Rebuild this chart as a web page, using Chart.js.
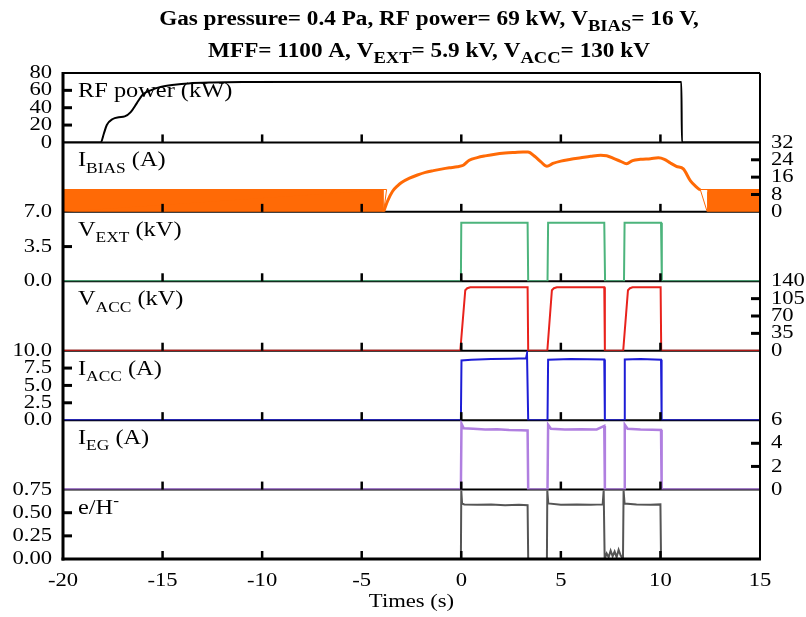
<!DOCTYPE html>
<html>
<head>
<meta charset="utf-8">
<script src="https://cdn.jsdelivr.net/npm/chart.js@4.4.0/dist/chart.umd.min.js"></script>
<style>
  html, body { margin: 0; padding: 0; background: #fff; }
  #wrap { width: 806px; height: 617px; }
</style>
</head>
<body>
<div id="wrap"><canvas id="shotChart" width="806" height="617"></canvas></div>
<script>
// time axis (s)
const xTicks = [-20, -15, -10, -5, 0, 5, 10, 15];

// RF power (kW)
const rfTime  = [-20, -18.1, -17.95, -17.8, -17.5, -17.2, -16.9, -16.6, -16.3, -16.0, -15.6, -15.1, -14.4, -13.7, -12.5, -11.0, 0, 11.05, 11.08, 15];
const rfPower = [0, 0, 10, 20, 27, 29, 30, 35, 45, 55, 60, 64, 66.5, 68, 69, 69.5, 70, 69.5, 0, 0];

// I_BIAS (A): noisy band before/after the shot, plus the smooth part
const ibiasBandLTime = [-20, -3.75, -3.9];
const ibiasBandLVal  = [10.3, 10.3, 0];
const ibiasBandRTime = [12.35, 12.0, 15];
const ibiasBandRVal  = [0, 10.3, 10.3];
const ibiasTime = [-3.9, -3.7, -3.45, -3.2, -3.0, -2.6, -2.2, -1.8, -1.4, -1.0, -0.6, -0.2, 0.1, 0.4, 0.8, 1.2, 1.7, 2.2, 2.7, 3.1, 3.35, 3.7, 4.0, 4.3, 4.6, 5.0, 5.5, 6.0, 6.5, 7.0, 7.3, 7.7, 8.0, 8.3, 8.6, 9.0, 9.5, 9.9, 10.2, 10.5, 10.8, 11.15, 11.5, 11.8, 12.0];
const ibiasVal  = [0, 5, 9.5, 12, 13.5, 15.5, 17, 18.2, 19, 19.7, 20.3, 20.8, 21.5, 23.8, 25, 25.8, 26.6, 27.1, 27.4, 27.6, 27.6, 25.5, 23, 21, 22.3, 23.4, 24.2, 24.9, 25.6, 26.1, 25.9, 24.4, 23.3, 22.2, 23.6, 24.2, 24.5, 24.9, 24.2, 22.5, 21, 19.8, 14.4, 11.5, 10];

// V_EXT (kV)
const vextTime = [-20, -0.02, 0.0, 3.33, 3.36, 4.33, 4.36, 7.18, 7.22, 8.17, 8.2, 10.03, 10.07, 15];
const vextVal  = [0, 0, 5.9, 5.9, 0, 0, 5.9, 5.9, 0, 0, 5.9, 5.9, 0, 0];

// V_ACC (kV)
const vaccTime = [-20, -0.05, 0.2, 0.3, 0.45, 3.33, 3.36, 4.32, 4.55, 4.65, 4.8, 7.18, 7.21, 8.13, 8.37, 8.47, 8.6, 10.01, 10.04, 15];
const vaccVal  = [0, 0, 122, 126, 128, 128, 0, 0, 122, 126, 128, 128, 0, 0, 122, 126, 128, 128, 0, 0];

// I_ACC (A)
const iaccTime = [-20, -0.02, 0.01, 0.5, 1.5, 2.5, 3.25, 3.3, 3.33, 3.36, 4.33, 4.36, 5.5, 7.18, 7.21, 8.18, 8.21, 9.0, 10.03, 10.06, 15];
const iaccVal  = [0, 0, 8.6, 8.7, 8.8, 8.85, 8.9, 9.6, 9.6, 0, 0, 8.7, 8.8, 8.75, 0, 0, 8.75, 8.8, 8.7, 0, 0];

// I_EG (A)
const iegTime = [-20, -0.02, 0.01, 0.12, 0.6, 1.2, 1.8, 2.4, 3.0, 3.33, 3.36, 4.33, 4.36, 4.5, 5.2, 6.0, 6.8, 7.18, 7.21, 8.18, 8.21, 8.35, 9.0, 9.6, 10.03, 10.06, 15];
const iegVal  = [0, 0, 5.7, 5.3, 5.25, 5.2, 5.22, 5.15, 5.12, 5.1, 0, 0, 5.6, 5.25, 5.2, 5.22, 5.2, 5.5, 0, 0, 5.6, 5.25, 5.2, 5.18, 5.15, 0, 0];

// e/H- ratio
const ehTime = [-20, -0.02, 0.0, 0.04, 0.15, 0.8, 1.5, 2.2, 2.9, 3.33, 3.36, 4.3, 4.32, 4.37, 5.0, 5.8, 6.5, 7.1, 7.15, 7.2, 7.3, 7.4, 7.5, 7.6, 7.7, 7.8, 7.9, 8.0, 8.12, 8.15, 8.2, 8.8, 9.5, 10.0, 10.03, 15];
const ehVal  = [0, 0, 0.74, 0.6, 0.59, 0.585, 0.59, 0.58, 0.585, 0.58, 0, 0, 0.74, 0.6, 0.585, 0.59, 0.585, 0.59, 0.74, 0, 0.06, 0.02, 0.09, 0.03, 0.08, 0.02, 0.1, 0.04, 0, 0.74, 0.6, 0.59, 0.585, 0.59, 0, 0];

// y tick values / labels per panel
const rfTicks = [0, 20, 40, 60, 80];          const rfTickLabels = ['0', '20', '40', '60', '80'];
const ibiasTicks = [0, 8, 16, 24, 32];        const ibiasTickLabels = ['0', '8', '16', '24', '32'];
const vextTicks = [0, 3.5, 7];                const vextTickLabels = ['0.0', '3.5', '7.0'];
const vaccTicks = [0, 35, 70, 105, 140];      const vaccTickLabels = ['0', '35', '70', '105', '140'];
const iaccTicks = [0, 2.5, 5, 7.5, 10];       const iaccTickLabels = ['0.0', '2.5', '5.0', '7.5', '10.0'];
const iegTicks = [0, 2, 4, 6];                const iegTickLabels = ['0', '2', '4', '6'];
const ehTicks = [0, 0.25, 0.5, 0.75];         const ehTickLabels = ['0.00', '0.25', '0.50', '0.75'];

const titleLine1 = [['Gas pressure= 0.4 Pa, RF power= 69 kW, V', ''], ['BIAS', 'sub'], ['= 16 V,', '']];
const titleLine2 = [['MFF= 1100 A, V', ''], ['EXT', 'sub'], ['= 5.9 kV, V', ''], ['ACC', 'sub'], ['= 130 kV', '']];

const SERIF = '"Liberation Serif", "Times New Roman", serif';
const STRETCH = 1.16;   // the original lettering is a bit wider than Times

const panels = [
  { id: 'rf',    side: 'left',  max: 80,   ticks: rfTicks,    labels: rfTickLabels,    name: [['RF power (kW)', '']] },
  { id: 'ibias', side: 'right', max: 32,   ticks: ibiasTicks, labels: ibiasTickLabels, name: [['I', ''], ['BIAS', 'sub'], [' (A)', '']] },
  { id: 'vext',  side: 'left',  max: 7,    ticks: vextTicks,  labels: vextTickLabels,  name: [['V', ''], ['EXT', 'sub'], [' (kV)', '']] },
  { id: 'vacc',  side: 'right', max: 140,  ticks: vaccTicks,  labels: vaccTickLabels,  name: [['V', ''], ['ACC', 'sub'], [' (kV)', '']] },
  { id: 'iacc',  side: 'left',  max: 10,   ticks: iaccTicks,  labels: iaccTickLabels,  name: [['I', ''], ['ACC', 'sub'], [' (A)', '']] },
  { id: 'ieg',   side: 'right', max: 6,    ticks: iegTicks,   labels: iegTickLabels,   name: [['I', ''], ['EG', 'sub'], [' (A)', '']] },
  { id: 'eh',    side: 'left',  max: 0.75, ticks: ehTicks,    labels: ehTickLabels,    name: [['e/H', ''], ['-', 'sup']] }
];

function pts(xs, ys) {
  return xs.map((x, i) => ({ x: x, y: ys[i] }));
}

// one stacked axis on each side for every panel
function panelAxis(p, pos, weight) {
  return {
    type: 'linear',
    position: pos,
    stack: 'panels',
    stackWeight: 1,
    weight: weight,
    min: 0,
    max: p.max,
    afterBuildTicks: s => { s.ticks = p.ticks.map(v => ({ value: v })); },
    afterFit: s => { s.width = pos === 'left' ? 63 : 46; },
    grid: { display: false, drawTicks: false },
    border: { display: false },
    ticks: {
      display: pos === p.side,
      autoSkip: false,
      padding: 11,
      color: '#000',
      font: { family: SERIF, size: 19.5 },
      callback: v => p.labels[p.ticks.indexOf(v)]
    }
  };
}

const scales = {
  x: {
    type: 'linear',
    position: 'bottom',
    min: -20,
    max: 15,
    afterBuildTicks: s => { s.ticks = xTicks.map(v => ({ value: v })); },
    afterFit: s => { s.height = 58; },
    grid: { display: false, drawTicks: false },
    border: { display: false },
    ticks: { padding: 10, autoSkip: false, maxRotation: 0, color: '#000', font: { family: SERIF, size: 19.5 } },
    title: { display: true, text: 'Times (s)', color: '#000', font: { family: SERIF, size: 19.5 }, padding: { top: 0, bottom: 3 } }
  }
};
panels.forEach((p, i) => {
  scales['L' + p.id] = panelAxis(p, 'left', 20 - i);
  scales['R' + p.id] = panelAxis(p, 'right', i + 1);
});

function drawRich(ctx, parts, x, y, size, weight, subScale, align) {
  const small = Math.round(size * subScale);
  const fontOf = s => weight + ' ' + s + 'px ' + SERIF;
  let total = 0;
  parts.forEach(([t, m]) => { ctx.font = fontOf(m ? small : size); total += ctx.measureText(t).width * STRETCH; });
  let cx = align === 'center' ? x - total / 2 : x;
  ctx.textAlign = 'left';
  ctx.textBaseline = 'alphabetic';
  ctx.fillStyle = '#000';
  parts.forEach(([t, m]) => {
    ctx.font = fontOf(m ? small : size);
    const dy = m === 'sub' ? size * 0.3 : (m === 'sup' ? -size * 0.4 : 0);
    ctx.fillText(t, cx, y + dy);
    cx += ctx.measureText(t).width * STRETCH;
  });
}

function seg(ctx, x1, y1, x2, y2) {
  ctx.beginPath();
  ctx.moveTo(x1, y1);
  ctx.lineTo(x2, y2);
  ctx.stroke();
}

// widen every piece of text around its anchor point
const textStretch = {
  id: 'textStretch',
  beforeDraw(chart) {
    const c = chart.ctx;
    if (c._plainFillText) return;
    c._plainFillText = c.fillText;
    c.fillText = function (text, x, y) {
      this.save();
      this.translate(x, y);
      this.scale(STRETCH, 1);
      this._plainFillText(text, 0, 0);
      this.restore();
    };
  }
};

const panelDecor = {
  id: 'panelDecor',
  beforeDatasetsDraw(chart) {
    const { ctx, chartArea: a } = chart;
    ctx.save();
    ctx.strokeStyle = '#000';
    ctx.lineWidth = 2;
    panels.slice(0, -1).forEach(p => {
      const y = chart.scales['L' + p.id].bottom;
      seg(ctx, a.left, y, a.right, y);
    });
    ctx.restore();
  },
  afterDatasetsDraw(chart) {
    const { ctx, chartArea: a } = chart;
    const xs = chart.scales.x;
    ctx.save();
    ctx.strokeStyle = '#000';
    // frame
    ctx.lineWidth = 2;
    seg(ctx, a.left, a.top, a.right, a.top);
    seg(ctx, a.right, a.top, a.right, a.bottom);
    ctx.lineWidth = 3;
    seg(ctx, a.left, a.top - 1, a.left, a.bottom + 1.5);
    seg(ctx, a.left - 1.5, a.bottom, a.right + 1, a.bottom);

    panels.forEach(p => {
      const ys = chart.scales['L' + p.id];
      // inward x ticks on each panel's bottom edge
      ctx.lineWidth = 2.5;
      xTicks.slice(1, -1).forEach(v => {
        const px = xs.getPixelForValue(v);
        seg(ctx, px, ys.bottom, px, ys.bottom - 8);
      });
      // inward y ticks on the labelled side
      ctx.lineWidth = 3;
      p.ticks.slice(1, -1).forEach(v => {
        const py = ys.getPixelForValue(v);
        if (p.side === 'left') seg(ctx, a.left, py, a.left + 9, py);
        else seg(ctx, a.right, py, a.right - 9, py);
      });
      drawRich(ctx, p.name, a.left + 15, ys.top + 24, 21, 'normal', 0.7, 'left');
    });
    ctx.restore();
  },
  afterDraw(chart) {
    const { ctx } = chart;
    ctx.save();
    drawRich(ctx, titleLine1, 429, 25, 20, 'bold', 0.78, 'center');
    drawRich(ctx, titleLine2, 429, 57, 20, 'bold', 0.78, 'center');
    ctx.restore();
  }
};

const lineStyle = (color, width) => ({
  borderColor: color,
  backgroundColor: color,
  borderWidth: width,
  pointRadius: 0,
  fill: false
});

const ctx = document.getElementById('shotChart').getContext('2d');
const shotChart = new Chart(ctx, {
  type: 'line',
  data: {
    datasets: [
      Object.assign({ label: 'RF power', data: pts(rfTime, rfPower), yAxisID: 'Lrf', cubicInterpolationMode: 'monotone' }, lineStyle('#000000', 2)),
      Object.assign({ label: 'I_BIAS band', data: pts(ibiasBandLTime, ibiasBandLVal), yAxisID: 'Libias' }, lineStyle('#ff6a06', 1), { fill: 'origin' }),
      Object.assign({ label: 'I_BIAS band 2', data: pts(ibiasBandRTime, ibiasBandRVal), yAxisID: 'Libias' }, lineStyle('#ff6a06', 1), { fill: 'origin' }),
      Object.assign({ label: 'I_BIAS', data: pts(ibiasTime, ibiasVal), yAxisID: 'Libias', cubicInterpolationMode: 'monotone' }, lineStyle('#ff6a06', 3)),
      Object.assign({ label: 'V_EXT', data: pts(vextTime, vextVal), yAxisID: 'Lvext' }, lineStyle('#4cb47c', 2)),
      Object.assign({ label: 'V_ACC', data: pts(vaccTime, vaccVal), yAxisID: 'Lvacc' }, lineStyle('#e8221c', 2)),
      Object.assign({ label: 'I_ACC', data: pts(iaccTime, iaccVal), yAxisID: 'Liacc' }, lineStyle('#1d1dd6', 2)),
      Object.assign({ label: 'I_EG', data: pts(iegTime, iegVal), yAxisID: 'Lieg' }, lineStyle('#b07fe0', 2.5)),
      Object.assign({ label: 'e/H-', data: pts(ehTime, ehVal), yAxisID: 'Leh' }, lineStyle('#555555', 2))
    ]
  },
  options: {
    responsive: false,
    animation: false,
    events: [],
    layout: { padding: { top: 73, left: 0, right: 0, bottom: 0 } },
    scales: scales,
    plugins: {
      legend: { display: false },
      tooltip: { enabled: false },
      title: { display: false }
    }
  },
  plugins: [textStretch, panelDecor]
});
</script>
</body>
</html>
